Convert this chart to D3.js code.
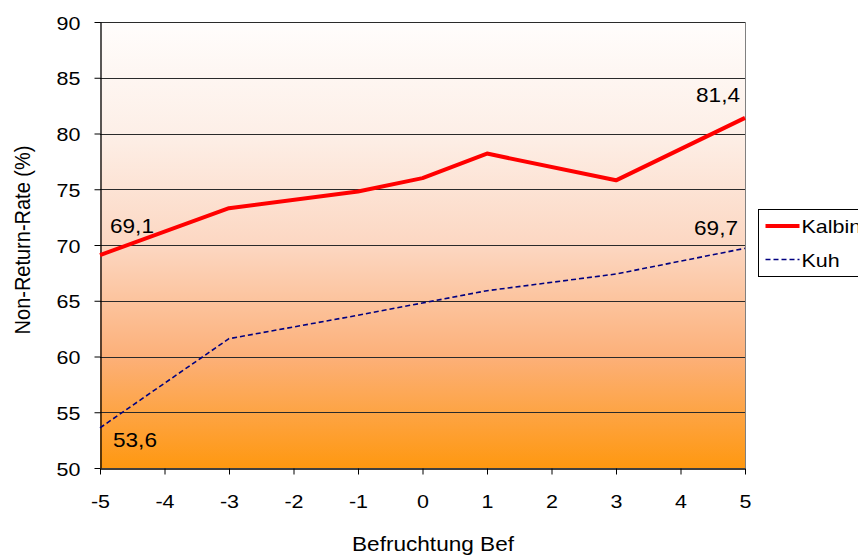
<!DOCTYPE html>
<html>
<head>
<meta charset="utf-8">
<script src="https://cdn.jsdelivr.net/npm/d3@7"></script>
<style>
  html, body { margin: 0; padding: 0; background: #ffffff; }
  svg { display: block; font-family: "Liberation Sans", Arial, sans-serif; }
</style>
</head>
<body>
<svg id="chart" width="858" height="556"></svg>
<script>
// Befruchtung relative zur Besamung (Bef) vs. Non-Return-Rate
const xValues = [-5, -3, -1, 0, 1, 3, 5];
const kalbinValues = [69.1, 73.3, 74.8, 76.0, 78.2, 75.8, 81.4];
const kuhValues = [53.6, 61.6, 63.7, 64.8, 65.9, 67.4, 69.7];
const xTicks = [-5, -4, -3, -2, -1, 0, 1, 2, 3, 4, 5];
const yTicks = [50, 55, 60, 65, 70, 75, 80, 85, 90];
const seriesNames = ["Kalbin", "Kuh"];
const labelPoints = [
  { series: 0, index: 0 }, { series: 0, index: 6 },
  { series: 1, index: 0 }, { series: 1, index: 6 }
];

const svg = d3.select("#chart");
const plot = { left: 100, top: 22, right: 745, bottom: 468 };

const x = d3.scaleLinear().domain([-5, 5]).range([plot.left, plot.right]);
const y = d3.scaleLinear().domain([50, 90]).range([plot.bottom, plot.top]);

const fmt = v => d3.format(".1f")(v).replace(".", ",");
const SX = 1.13; // horizontal widening of the Arial-style glyphs

// plot area fill: white at the top fading into orange at the bottom
const defs = svg.append("defs");
const grad = defs.append("linearGradient")
  .attr("id", "bg").attr("x1", 0).attr("y1", 0).attr("x2", 0).attr("y2", 1);
[
  ["0%", "#fffdfc"],
  ["25%", "#fdefe7"],
  ["50%", "#fcd7c2"],
  ["75%", "#fcb079"],
  ["100%", "#ff9810"]
].forEach(([o, c]) => grad.append("stop").attr("offset", o).attr("stop-color", c));

svg.append("rect")
  .attr("x", plot.left).attr("y", plot.top)
  .attr("width", plot.right - plot.left).attr("height", plot.bottom - plot.top)
  .attr("fill", "url(#bg)");

// horizontal gridlines
svg.append("g").selectAll("line")
  .data(yTicks.filter(t => t > 50))
  .join("line")
  .attr("x1", plot.left).attr("x2", plot.right)
  .attr("y1", d => Math.round(y(d)) + 0.5).attr("y2", d => Math.round(y(d)) + 0.5)
  .attr("stroke", "#2a2a2a").attr("stroke-width", 1);

// right border of the plot area
svg.append("line")
  .attr("x1", plot.right + 0.5).attr("x2", plot.right + 0.5)
  .attr("y1", plot.top).attr("y2", plot.bottom)
  .attr("stroke", "#808080").attr("stroke-width", 1);

// axes
const yAxis = svg.append("g")
  .attr("transform", `translate(${plot.left + 0.5},0)`)
  .call(d3.axisLeft(y).tickValues(yTicks).tickSize(6).tickSizeOuter(0).tickPadding(0));
const xAxis = svg.append("g")
  .attr("transform", `translate(0,${plot.bottom + 0.5})`)
  .call(d3.axisBottom(x).tickValues(xTicks).tickSize(6).tickSizeOuter(0).tickPadding(0));

[yAxis, xAxis].forEach(a => {
  a.select(".domain").attr("stroke", "#000").attr("stroke-width", 1.3);
  a.selectAll(".tick line").attr("stroke", "#000");
  a.selectAll("text").remove();
});

// tick labels
yAxis.selectAll(".tick").append("text")
  .attr("transform", `translate(-20,7) scale(${SX},1)`)
  .attr("text-anchor", "end")
  .attr("font-size", 19).attr("fill", "#000")
  .text(d => d);
xAxis.selectAll(".tick").append("text")
  .attr("transform", `translate(0,39) scale(${SX},1)`)
  .attr("text-anchor", "middle")
  .attr("font-size", 19).attr("fill", "#000")
  .text(d => d);

// axis titles
svg.append("text")
  .attr("transform", `translate(30,240) rotate(-90) scale(1,${SX})`)
  .attr("text-anchor", "middle")
  .attr("font-size", 20).attr("fill", "#000")
  .text("Non-Return-Rate (%)");
svg.append("text")
  .attr("transform", `translate(433,551) scale(${SX},1)`)
  .attr("text-anchor", "middle")
  .attr("font-size", 20).attr("fill", "#000")
  .text("Befruchtung Bef");

// lines
const line = d3.line().x((d, i) => x(xValues[i])).y(d => y(d));
const allSeries = [kalbinValues, kuhValues];
const styles = [
  { stroke: "#ff0000", width: 4, dash: null },
  { stroke: "#000080", width: 1.6, dash: "5,3" }
];

svg.append("g").selectAll("path")
  .data(allSeries)
  .join("path")
  .attr("d", d => line(d))
  .attr("fill", "none")
  .attr("stroke", (d, i) => styles[i].stroke)
  .attr("stroke-width", (d, i) => styles[i].width)
  .attr("stroke-dasharray", (d, i) => styles[i].dash)
  .attr("stroke-linejoin", "round");

// value labels at the first and last points
const labelOffsets = [
  { dx: 10, dy: -22, anchor: "start" },
  { dx: -5, dy: -16, anchor: "end" },
  { dx: 13, dy: 19, anchor: "start" },
  { dx: -7, dy: -13, anchor: "end" }
];
svg.append("g").selectAll("text")
  .data(labelPoints)
  .join("text")
  .attr("transform", (d, i) => {
    const v = allSeries[d.series][d.index];
    const o = labelOffsets[i];
    return `translate(${x(xValues[d.index]) + o.dx},${y(v) + o.dy}) scale(${SX},1)`;
  })
  .attr("text-anchor", (d, i) => labelOffsets[i].anchor)
  .attr("font-size", 20).attr("fill", "#000")
  .text(d => fmt(allSeries[d.series][d.index]));

// legend
const legend = svg.append("g").attr("transform", "translate(758.5,209.5)");
legend.append("rect")
  .attr("width", 120).attr("height", 67)
  .attr("fill", "#ffffff").attr("stroke", "#000").attr("stroke-width", 1);
seriesNames.forEach((name, i) => {
  const ly = 16.5 + i * 33.5;
  legend.append("line")
    .attr("x1", 7).attr("x2", 41).attr("y1", ly).attr("y2", ly)
    .attr("stroke", styles[i].stroke).attr("stroke-width", styles[i].width)
    .attr("stroke-dasharray", styles[i].dash);
  legend.append("text")
    .attr("transform", `translate(43,${ly + 7}) scale(${SX},1)`)
    .attr("font-size", 19).attr("fill", "#000")
    .text(name);
});
</script>
</body>
</html>
